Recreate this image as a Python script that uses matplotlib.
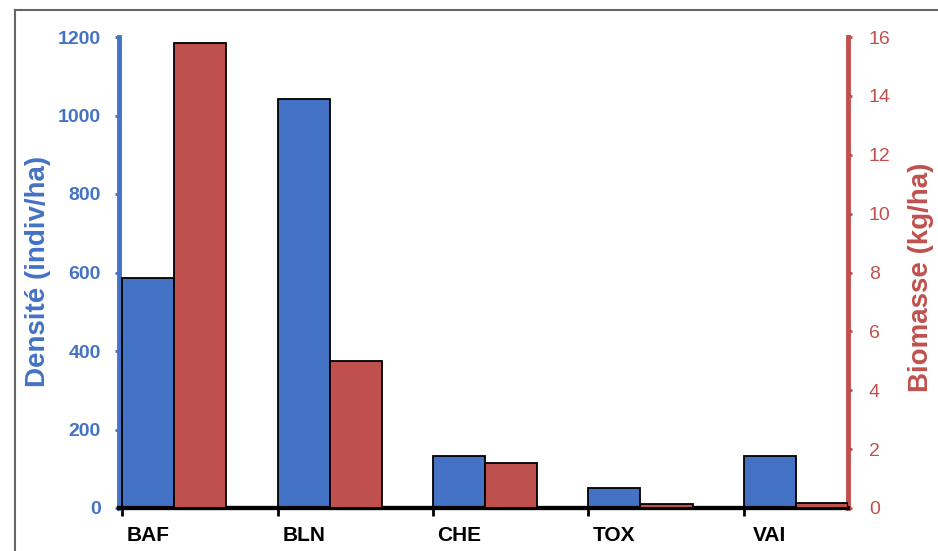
import matplotlib
matplotlib.use("Agg")
import matplotlib.pyplot as plt
from matplotlib.lines import Line2D
import numpy as np

# Data
categories = ["BAF", "BLN", "CHE", "TOX", "VAI"]
densite = [587, 1042, 133, 51, 133]          # indiv/ha
biomasse = [15.8, 5.0, 1.53, 0.15, 0.17]     # kg/ha
densite_ticks = [0, 200, 400, 600, 800, 1000, 1200]
biomasse_ticks = [0, 2, 4, 6, 8, 10, 12, 14, 16]

BLUE = "#4472C4"
RED = "#C0504D"

plt.rcParams["font.family"] = ["Liberation Sans", "DejaVu Sans"]

W, H = 938, 551
fig = plt.figure(figsize=(W / 100, H / 100), dpi=100)
ax = fig.add_axes([119 / W, 1 - 508 / H, (848 - 119) / W, (508 - 37) / H])
ax2 = ax.twinx()

x = np.arange(len(categories))
w = 0.335

ax.bar(x, densite, width=w, align="edge", color=BLUE,
       edgecolor="black", linewidth=1.3, zorder=3)
ax2.bar(x + w, biomasse, width=w, align="edge", color=RED,
        edgecolor="black", linewidth=1.3, zorder=3)

ax.set_xlim(-0.02, 4.67)
ax.set_ylim(0, 1200)
ax2.set_ylim(0, 16)

# Spines
for a in (ax, ax2):
    a.spines["top"].set_visible(False)
    a.spines["bottom"].set_color("black")
    a.spines["bottom"].set_linewidth(3)
ax.spines["right"].set_visible(False)
ax2.spines["left"].set_visible(False)
ax.spines["left"].set_color(BLUE)
ax.spines["left"].set_linewidth(3.5)
ax2.spines["right"].set_color(RED)
ax2.spines["right"].set_linewidth(3.5)

# Y ticks
ax.set_yticks(densite_ticks)
ax.tick_params(axis="y", colors=BLUE, length=3, width=2, pad=10,
               labelsize=14)
for t in ax.get_yticklabels():
    t.set_fontweight("bold")
ax2.set_yticks(biomasse_ticks)
ax2.tick_params(axis="y", colors=RED, length=3, width=2, pad=12,
                labelsize=14)

# X ticks: marks at group starts, labels under the first bar
ax.set_xticks(x + w / 2)
ax.set_xticklabels(categories, fontsize=15, fontweight="bold")
ax.tick_params(axis="x", length=0, pad=13, colors="black")
ax.set_xticks(x, minor=True)
ax.tick_params(axis="x", which="minor", length=6, width=2, color="black")

# Axis titles
fig.text(38 / W, 1 - 271.5 / H, "Densité (indiv/ha)", rotation=90,
         ha="center", va="center", fontsize=20, fontweight="bold", color=BLUE)
fig.text(921 / W, 1 - 277.5 / H, "Biomasse (kg/ha)", rotation=90,
         ha="center", va="center", fontsize=20, fontweight="bold", color=RED)

# Frame around the chart area
fig.add_artist(Line2D([15 / W, 15 / W], [0, 1 - 10 / H],
                      transform=fig.transFigure, color="#666666", lw=1.5))
fig.add_artist(Line2D([15 / W, 1], [1 - 10 / H, 1 - 10 / H],
                      transform=fig.transFigure, color="#666666", lw=1.5))

fig.savefig("out.png", dpi=100)
